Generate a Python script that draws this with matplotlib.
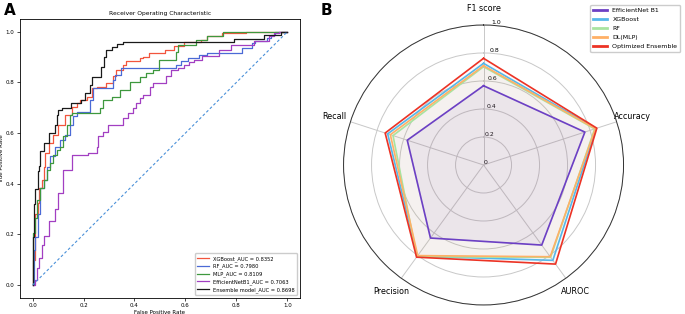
import numpy as np
import matplotlib
matplotlib.use("Agg")
import matplotlib.pyplot as plt

# ---- panel A: ROC curves (corner points) ----
xgb_fpr = [0.0, 0.0, 0.011, 0.011, 0.02, 0.02, 0.027, 0.027, 0.037, 0.037, 0.043, 0.043, 0.05, 0.05,
           0.066, 0.066, 0.082, 0.082, 0.101, 0.101, 0.128, 0.128, 0.154, 0.154, 0.173, 0.173, 0.186,
           0.186, 0.212, 0.212, 0.232, 0.232, 0.251, 0.251, 0.29, 0.29, 0.316, 0.316, 0.329, 0.329,
           0.355, 0.355, 0.368, 0.368, 0.42, 0.42, 0.433, 0.433, 0.456, 0.456, 0.518, 0.518, 0.557,
           0.557, 0.596, 0.596, 0.661, 0.661, 0.686, 0.686, 0.743, 0.743, 0.839, 0.839, 1.0]
xgb_tpr = [0.0, 0.10, 0.10, 0.28, 0.28, 0.324, 0.324, 0.383, 0.383, 0.416, 0.416, 0.468, 0.468, 0.521,
           0.521, 0.561, 0.561, 0.593, 0.593, 0.633, 0.633, 0.672, 0.672, 0.705, 0.705, 0.718, 0.718,
           0.73, 0.73, 0.744, 0.744, 0.778, 0.778, 0.782, 0.782, 0.797, 0.797, 0.826, 0.826, 0.85,
           0.85, 0.87, 0.87, 0.883, 0.883, 0.896, 0.896, 0.90, 0.90, 0.916, 0.916, 0.929, 0.929,
           0.945, 0.945, 0.958, 0.958, 0.968, 0.968, 0.984, 0.984, 0.995, 0.995, 1.0, 1.0]

rf_fpr = [0.0, 0.004, 0.004, 0.011, 0.011, 0.02, 0.02, 0.03, 0.03, 0.043, 0.043, 0.056, 0.056, 0.069,
          0.069, 0.089, 0.089, 0.108, 0.108, 0.128, 0.128, 0.147, 0.147, 0.16, 0.16, 0.173, 0.173,
          0.225, 0.225, 0.238, 0.238, 0.277, 0.277, 0.316, 0.316, 0.322, 0.322, 0.349, 0.349, 0.368,
          0.368, 0.563, 0.563, 0.583, 0.583, 0.609, 0.609, 0.654, 0.654, 0.686, 0.686, 0.823, 0.823,
          0.86, 0.86, 0.875, 0.875, 0.92, 0.92, 0.935, 0.935, 0.953, 0.953, 1.0]
rf_tpr = [0.0, 0.0, 0.14, 0.14, 0.19, 0.19, 0.28, 0.28, 0.383, 0.383, 0.416, 0.416, 0.468, 0.468,
          0.508, 0.508, 0.547, 0.547, 0.574, 0.574, 0.593, 0.593, 0.633, 0.633, 0.666, 0.666, 0.685,
          0.685, 0.73, 0.73, 0.778, 0.778, 0.778, 0.778, 0.81, 0.81, 0.83, 0.83, 0.857, 0.857,
          0.857, 0.857, 0.87, 0.87, 0.883, 0.883, 0.896, 0.896, 0.909, 0.909, 0.918, 0.918, 0.935,
          0.935, 0.955, 0.955, 0.962, 0.962, 0.975, 0.975, 0.988, 0.988, 1.0, 1.0]

mlp_fpr = [0.0, 0.0, 0.011, 0.011, 0.017, 0.017, 0.03, 0.03, 0.043, 0.043, 0.056, 0.056, 0.069, 0.069,
           0.082, 0.082, 0.095, 0.095, 0.108, 0.108, 0.121, 0.121, 0.134, 0.134, 0.147, 0.147, 0.154,
           0.154, 0.264, 0.264, 0.277, 0.277, 0.31, 0.31, 0.342, 0.342, 0.381, 0.381, 0.42, 0.42,
           0.446, 0.446, 0.472, 0.472, 0.498, 0.498, 0.563, 0.563, 0.57, 0.57, 0.641, 0.641, 0.686,
           0.686, 0.748, 0.748, 1.0]
mlp_tpr = [0.0, 0.205, 0.205, 0.264, 0.264, 0.337, 0.337, 0.383, 0.383, 0.416, 0.416, 0.455, 0.455,
           0.48, 0.48, 0.514, 0.514, 0.534, 0.534, 0.547, 0.547, 0.587, 0.587, 0.633, 0.633, 0.672,
           0.672, 0.679, 0.679, 0.699, 0.699, 0.73, 0.73, 0.744, 0.744, 0.771, 0.771, 0.80, 0.80,
           0.82, 0.82, 0.837, 0.837, 0.85, 0.85, 0.89, 0.89, 0.922, 0.922, 0.949, 0.949, 0.968,
           0.968, 0.984, 0.984, 1.0, 1.0]

eff_fpr = [0.0, 0.011, 0.011, 0.017, 0.017, 0.024, 0.024, 0.037, 0.037, 0.043, 0.043, 0.066, 0.066,
           0.089, 0.089, 0.101, 0.101, 0.121, 0.121, 0.154, 0.154, 0.218, 0.218, 0.251, 0.251, 0.257,
           0.257, 0.277, 0.277, 0.296, 0.296, 0.355, 0.355, 0.374, 0.374, 0.394, 0.394, 0.407, 0.407,
           0.42, 0.42, 0.433, 0.433, 0.459, 0.459, 0.472, 0.472, 0.524, 0.524, 0.544, 0.544, 0.57,
           0.57, 0.596, 0.596, 0.615, 0.615, 0.635, 0.635, 0.667, 0.667, 0.732, 0.732, 0.778, 0.778,
           0.869, 0.869, 0.927, 0.927, 0.947, 0.947, 0.966, 0.966, 1.0]
eff_tpr = [0.0, 0.0, 0.021, 0.021, 0.067, 0.067, 0.107, 0.107, 0.159, 0.159, 0.192, 0.192, 0.251,
           0.251, 0.30, 0.30, 0.363, 0.363, 0.455, 0.455, 0.514, 0.514, 0.52, 0.52, 0.547, 0.547,
           0.587, 0.587, 0.606, 0.606, 0.633, 0.633, 0.659, 0.659, 0.679, 0.679, 0.699, 0.699, 0.718,
           0.718, 0.738, 0.738, 0.751, 0.751, 0.784, 0.784, 0.797, 0.797, 0.824, 0.824, 0.85, 0.85,
           0.857, 0.857, 0.87, 0.87, 0.879, 0.879, 0.89, 0.89, 0.903, 0.903, 0.929, 0.929, 0.949,
           0.949, 0.962, 0.962, 0.984, 0.984, 0.995, 0.995, 1.0, 1.0]

ens_fpr = [0.0, 0.0, 0.004, 0.004, 0.011, 0.011, 0.02, 0.02, 0.024, 0.024, 0.03, 0.03, 0.043, 0.043,
           0.066, 0.066, 0.089, 0.089, 0.095, 0.095, 0.101, 0.101, 0.115, 0.115, 0.15, 0.15, 0.19,
           0.19, 0.205, 0.205, 0.225, 0.225, 0.235, 0.235, 0.27, 0.27, 0.28, 0.28, 0.29, 0.29, 0.31,
           0.31, 0.33, 0.33, 0.355, 0.355, 0.79, 0.79, 0.908, 0.908, 0.976, 0.976, 1.0]
ens_tpr = [0.0, 0.19, 0.19, 0.32, 0.32, 0.38, 0.38, 0.45, 0.45, 0.47, 0.47, 0.53, 0.53, 0.56, 0.56,
           0.60, 0.60, 0.63, 0.63, 0.67, 0.67, 0.69, 0.69, 0.70, 0.70, 0.72, 0.72, 0.73, 0.73, 0.76,
           0.76, 0.79, 0.79, 0.82, 0.82, 0.86, 0.86, 0.90, 0.90, 0.93, 0.93, 0.94, 0.94, 0.95, 0.95,
           0.958, 0.958, 0.972, 0.972, 0.988, 0.988, 1.0, 1.0]

roc_labels = ["XGBoost_AUC = 0.8352", "RF_AUC = 0.7980", "MLP_AUC = 0.8109",
              "EfficientNetB1_AUC = 0.7063", "Ensemble model_AUC = 0.8698"]
roc_colors = ["#f2553d", "#4b6ad6", "#3e983e", "#a23fc2", "#1a1a1a"]

# ---- panel B: radar metrics ----
metrics = ["F1 score", "Accuracy", "AUROC", "Precision", "Recall"]
radar_models = ["EfficientNet B1", "XGBoost", "RF", "DL(MLP)", "Optimized Ensemble"]
effnet_scores = [0.566, 0.761, 0.707, 0.645, 0.573]
xgb_scores = [0.726, 0.845, 0.842, 0.805, 0.720]
rf_scores = [0.702, 0.835, 0.815, 0.810, 0.680]
mlp_scores = [0.709, 0.840, 0.810, 0.800, 0.700]
ensemble_scores = [0.762, 0.851, 0.875, 0.814, 0.739]
radar_colors = ["#6c40c4", "#55b8ea", "#a8e4a0", "#ffb066", "#ec3325"]
fill_alpha = [0.08, 0.03, 0.03, 0.03, 0.03]

fig = plt.figure(figsize=(6.85, 3.14), dpi=100)

# A
ax = fig.add_axes([0.029, 0.052, 0.409, 0.887])
curves = [(xgb_fpr, xgb_tpr), (rf_fpr, rf_tpr), (mlp_fpr, mlp_tpr), (eff_fpr, eff_tpr), (ens_fpr, ens_tpr)]
for (fpr, tpr), lab, col in zip(curves, roc_labels, roc_colors):
    ax.plot(fpr, tpr, color=col, lw=0.9, label=lab)
ax.plot([0, 1], [0, 1], color="#4a90d9", lw=0.8, linestyle=(0, (2.5, 2)))
ax.set_xlim(-0.05, 1.05)
ax.set_ylim(-0.05, 1.05)
ax.set_xticks([0, 0.2, 0.4, 0.6, 0.8, 1.0])
ax.set_yticks([0, 0.2, 0.4, 0.6, 0.8, 1.0])
ax.tick_params(labelsize=4, length=2, width=0.5, pad=2)
for s in ax.spines.values():
    s.set_linewidth(0.6)
ax.set_title("Receiver Operating Characteristic", fontsize=4.3, pad=3)
ax.set_xlabel("False Positive Rate", fontsize=4, labelpad=1.5)
ax.set_ylabel("True Positive Rate", fontsize=4, labelpad=0.8)
ax.legend(loc="lower right", fontsize=3.7, handlelength=2.3, frameon=True,
          fancybox=True, borderpad=0.5, labelspacing=0.4, framealpha=1, edgecolor="#cccccc")

# B
pax = fig.add_axes([0.5015, 0.0287, 0.4088, 0.8917], projection="polar")
pax.set_theta_offset(np.pi / 2)
pax.set_theta_direction(-1)
angles = np.linspace(0, 2 * np.pi, len(metrics), endpoint=False)
series = [effnet_scores, xgb_scores, rf_scores, mlp_scores, ensemble_scores]
for i, (vals, name, col) in enumerate(zip(series, radar_models, radar_colors)):
    th = np.concatenate([angles, angles[:1]])
    v = np.concatenate([vals, vals[:1]])
    pax.plot(th, v, color=col, lw=1.2, label=name, zorder=3 + i)
    pax.fill(th, v, color=col, alpha=fill_alpha[i], zorder=2)
pax.set_ylim(0, 1.0)
pax.set_thetagrids(np.degrees(angles), metrics, fontsize=5.8)
pax.tick_params(axis="x", pad=1.5)
pax.set_rgrids([0, 0.2, 0.4, 0.6, 0.8, 1.0], ["0", "0.2", "0.4", "0.6", "0.8", "1.0"], fontsize=4.4)
pax.set_rlabel_position(3)
pax.grid(color="#c8c8c8", lw=0.7)
pax.spines["polar"].set_color("#333333")
pax.spines["polar"].set_linewidth(0.7)
pax.legend(loc="upper right", bbox_to_anchor=(0.997, 0.994), bbox_transform=fig.transFigure,
           fontsize=4.5, handlelength=2.3, labelspacing=0.6, framealpha=1, edgecolor="#cccccc")
for line in pax.get_legend().get_lines():
    line.set_linewidth(2)

fig.text(0.006, 0.965, "A", fontsize=11, fontweight="bold", va="center")
fig.text(0.468, 0.965, "B", fontsize=11, fontweight="bold", va="center")

fig.savefig("out.png", dpi=100)
